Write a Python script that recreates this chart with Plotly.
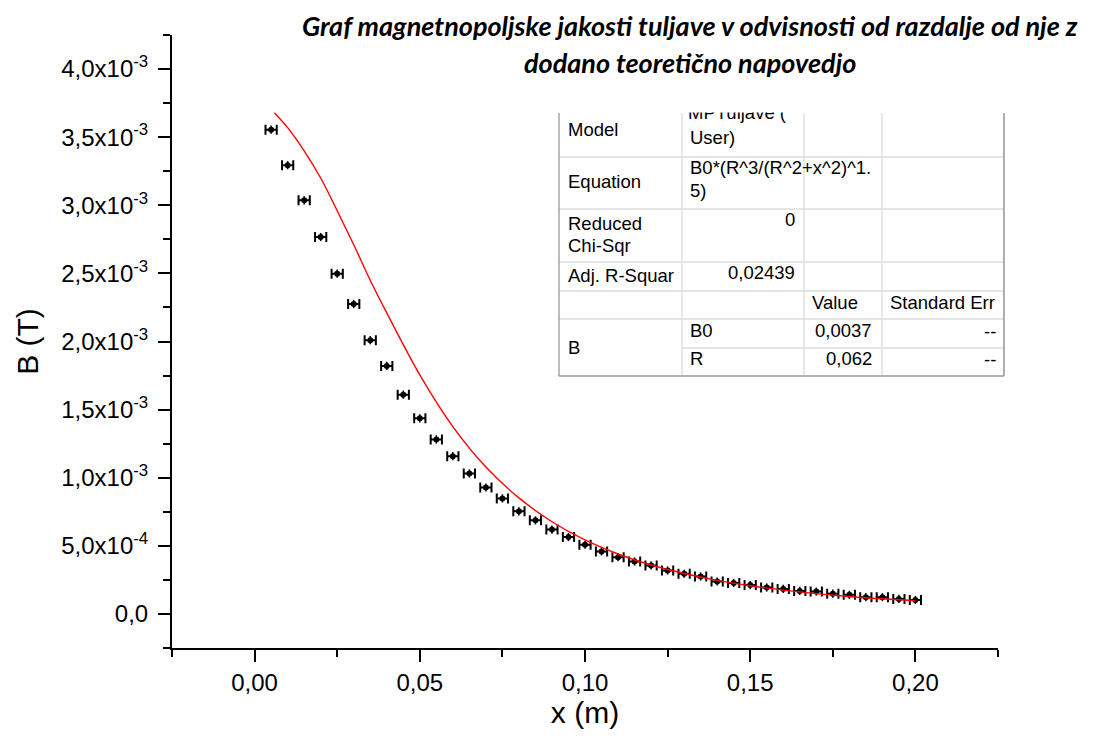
import plotly.graph_objects as go

# ---------------- data ----------------
x_meas = [0.005, 0.010, 0.015, 0.020, 0.025, 0.030, 0.035, 0.040, 0.045, 0.050,
          0.055, 0.060, 0.065, 0.070, 0.075, 0.080, 0.085, 0.090, 0.095, 0.100,
          0.105, 0.110, 0.115, 0.120, 0.125, 0.130, 0.135, 0.140, 0.145, 0.150,
          0.155, 0.160, 0.165, 0.170, 0.175, 0.180, 0.185, 0.190, 0.195, 0.200]
B_meas_mT = [3.555, 3.294, 3.036, 2.767, 2.498, 2.275, 2.010, 1.821, 1.610, 1.436,
             1.281, 1.158, 1.031, 0.928, 0.848, 0.753, 0.687, 0.619, 0.565, 0.508,
             0.459, 0.417, 0.385, 0.356, 0.319, 0.295, 0.275, 0.238, 0.228, 0.212,
             0.194, 0.184, 0.169, 0.164, 0.149, 0.140, 0.123, 0.123, 0.110, 0.103]
x_err = 0.0017
B_err = 0.03e-3

x_fit = [0.006, 0.010, 0.015, 0.020, 0.025, 0.030, 0.035, 0.040, 0.050, 0.060,
         0.070, 0.080, 0.090, 0.100, 0.110, 0.120, 0.140, 0.160, 0.180, 0.200]
B_fit_mT = [3.68, 3.57, 3.40, 3.20, 2.96, 2.71, 2.45, 2.21, 1.755, 1.375,
            1.078, 0.852, 0.677, 0.543, 0.440, 0.359, 0.246, 0.175, 0.128, 0.097]

y_tickvals = [0, 0.5e-3, 1.0e-3, 1.5e-3, 2.0e-3, 2.5e-3, 3.0e-3, 3.5e-3, 4.0e-3]
y_ticktext = ["0,0", "5,0x10<sup>-4</sup>", "1,0x10<sup>-3</sup>", "1,5x10<sup>-3</sup>",
              "2,0x10<sup>-3</sup>", "2,5x10<sup>-3</sup>", "3,0x10<sup>-3</sup>",
              "3,5x10<sup>-3</sup>", "4,0x10<sup>-3</sup>"]

title_lines = ["Graf magnetnopoljske jakosti tuljave v odvisnosti od razdalje od nje z",
               "dodano teoretično napovedjo"]

# ---------------- layout geometry ----------------
# the page body has an 8 px margin, so the figure is offset by OFF px
OFF = 8
W, H = 1101, 731
ML, MR, MT, MB = 172 - OFF, 111, 35 - OFF, 91
XR = [-0.025, 0.225]
YR = [-0.25e-3, 4.25e-3]
PW = W - ML - MR
PH = H - MT - MB


def px(xp):
    return (xp - OFF - ML) / PW


def py(yp):
    return 1 - (yp - OFF - MT) / PH


def dx(xp):
    return XR[0] + px(xp) * (XR[1] - XR[0])


def dy(yp):
    return YR[0] + py(yp) * (YR[1] - YR[0])


B_meas = [v * 1e-3 for v in B_meas_mT]
B_fit = [v * 1e-3 for v in B_fit_mT]

fig = go.Figure()

fig.add_trace(go.Scatter(
    x=x_meas, y=B_meas, mode="markers",
    marker=dict(color="black", size=6, symbol="circle"),
    error_x=dict(type="constant", value=x_err, color="black", thickness=2, width=5),
    error_y=dict(type="constant", value=B_err, color="black", thickness=1.5, width=0),
    showlegend=False, name="B"))

fig.add_trace(go.Scatter(
    x=x_fit, y=B_fit, mode="lines", line=dict(color="#ff0000", width=1.4, shape="spline", smoothing=1.0),
    showlegend=False, name="MPTuljave"))

# clipped first-row text of the table (drawn as a trace so it can be covered)
fig.add_trace(go.Scatter(
    x=[dx(688)], y=[dy(114)], mode="text", text=["MPTuljave ("],
    textposition="middle right",
    textfont=dict(family="Liberation Sans, Arial", size=18.5, color="black"),
    showlegend=False, hoverinfo="skip"))

tick_font = dict(family="Liberation Sans, Arial", size=24, color="black")
title_font = dict(family="Liberation Sans, Arial", size=30, color="black")

fig.update_layout(
    width=W, height=H,
    margin=dict(l=ML, r=MR, t=MT, b=MB, pad=0, autoexpand=False),
    paper_bgcolor="white", plot_bgcolor="white",
    separators=",.",
    showlegend=False,
    xaxis=dict(
        range=XR, showgrid=False, zeroline=False, automargin=False,
        showline=True, linecolor="black", linewidth=2,
        ticks="outside", ticklen=12, tickwidth=2, tickcolor="black",
        tick0=0, dtick=0.05, tickformat=".2f",
        tickfont=tick_font, ticklabelstandoff=0,
        minor=dict(ticks="outside", ticklen=7, tickwidth=2, tickcolor="black",
                   tick0=-0.025, dtick=0.025),
        title=dict(text="x (m)", font=title_font, standoff=6),
    ),
    yaxis=dict(
        range=YR, showgrid=False, zeroline=False, automargin=False,
        showline=True, linecolor="black", linewidth=2,
        ticks="outside", ticklen=12, tickwidth=2, tickcolor="black",
        tickmode="array", tickvals=y_tickvals, ticktext=y_ticktext,
        tickfont=tick_font, ticklabelstandoff=5,
        minor=dict(ticks="outside", ticklen=7, tickwidth=2, tickcolor="black",
                   tick0=-0.25e-3, dtick=0.25e-3),
        title=dict(text="B (T)", font=title_font, standoff=14),
    ),
)

# ---------------- title ----------------
tfont = dict(family="Lato", size=27, color="black", weight="bold", style="italic")
fig.add_annotation(xref="paper", yref="paper", x=px(690), y=py(25), text=title_lines[0],
                   showarrow=False, xanchor="center", yanchor="middle", font=tfont)
fig.add_annotation(xref="paper", yref="paper", x=px(690), y=py(62), text=title_lines[1],
                   showarrow=False, xanchor="center", yanchor="middle", font=tfont)

# ---------------- table ----------------
shapes = []
# cover for clipped text above table
shapes.append(dict(type="rect", xref="paper", yref="paper", layer="above",
                   x0=px(550), x1=px(1012), y0=py(112.5), y1=py(94),
                   fillcolor="white", line=dict(width=0)))
inner = "#dcdcdc"
outer = "#9a9a9a"


def hline(x0, x1, y, color, w=1.3):
    shapes.append(dict(type="line", xref="paper", yref="paper", layer="above",
                       x0=px(x0), x1=px(x1), y0=py(y), y1=py(y),
                       line=dict(color=color, width=w)))


def vline(x, y0, y1, color, w=1.3):
    shapes.append(dict(type="line", xref="paper", yref="paper", layer="above",
                       x0=px(x), x1=px(x), y0=py(y0), y1=py(y1),
                       line=dict(color=color, width=w)))


for yy in [157, 209, 262, 291, 319]:
    hline(559, 1004, yy, inner)
hline(682, 1004, 348, inner)
for xx in [682, 804, 882]:
    vline(xx, 113, 376, inner)
vline(559, 113, 376, outer)
vline(1004, 113, 376, outer, 1.6)
hline(559, 1004, 376, outer, 1.6)
fig.update_layout(shapes=shapes)

cell_font = dict(family="Liberation Sans, Arial", size=18.5, color="black")
cells = [
    ("Model", 566, 129, "left"),
    ("User)", 688, 137, "left"),
    ("Equation", 566, 182, "left"),
    ("B0*(R^3/(R^2+x^2)^1.", 688, 168, "left"),
    ("5)", 688, 190, "left"),
    ("Reduced", 566, 223, "left"),
    ("Chi-Sqr", 566, 245, "left"),
    ("0", 797, 220, "right"),
    ("Adj. R-Squar", 566, 275, "left"),
    ("0,02439", 797, 272, "right"),
    ("Value", 810, 302, "left"),
    ("Standard Err", 888, 302, "left"),
    ("B", 566, 347, "left"),
    ("B0", 688, 330, "left"),
    ("0,0037", 874, 330, "right"),
    ("--", 998, 331, "right"),
    ("R", 688, 358, "left"),
    ("0,062", 874, 358, "right"),
    ("--", 998, 359, "right"),
]
for txt, xx, yy, anc in cells:
    fig.add_annotation(xref="paper", yref="paper", x=px(xx), y=py(yy), text=txt,
                       showarrow=False, xanchor=anc, yanchor="middle", font=cell_font)

fig.write_html("out.html")
